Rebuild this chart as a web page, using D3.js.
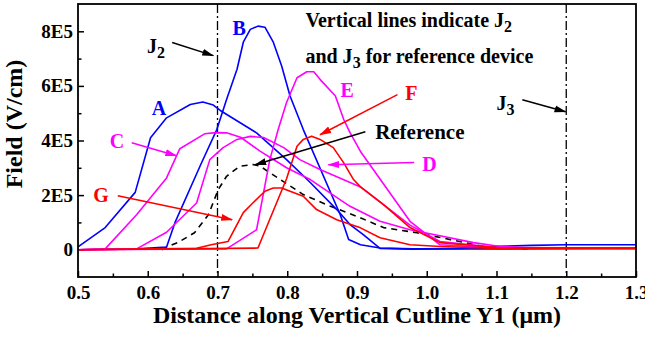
<!DOCTYPE html>
<html>
<head>
<meta charset="utf-8">
<script src="https://cdn.jsdelivr.net/npm/d3@7"></script>
<style>
body { margin: 0; background: #fff; }
text { font-family: "Liberation Serif", "Times New Roman", serif; font-weight: bold; }
</style>
</head>
<body>
<script>
// distance in um, field in units of 1E5 V/cm
var curveA = [[0.5,0.1],[0.539,0.81],[0.582,2.1],[0.604,4.1],[0.627,4.83],[0.661,5.32],[0.679,5.41],[0.694,5.3],[0.704,5.1],[0.756,4.28],[0.799,3.3],[0.833,2.46],[0.871,1.47],[0.89,0.92],[0.909,0.55],[0.933,0.05],[0.98,0.02],[1.05,0.05],[1.1,0.12],[1.15,0.16],[1.2,0.18],[1.3,0.18]];
var curveB = [[0.5,0],[0.585,0.03],[0.627,0.1],[0.639,0.99],[0.676,3.12],[0.699,4.4],[0.713,5.5],[0.728,6.61],[0.737,7.6],[0.747,8.07],[0.758,8.19],[0.768,8.15],[0.78,7.6],[0.792,6.73],[0.804,5.63],[0.823,4.4],[0.876,1.28],[0.888,0.37],[0.905,0.18],[0.933,0.06],[0.98,0.03],[1.1,0.03],[1.3,0.05]];
var curveC = [[0.5,0],[0.539,0.03],[0.584,1.28],[0.627,2.63],[0.646,3.7],[0.682,4.25],[0.697,4.29],[0.713,4.28],[0.733,4.12],[0.761,3.61],[0.799,3.0],[0.833,2.57],[0.89,1.59],[0.933,1.04],[0.976,0.73],[1.019,0.51],[1.067,0.26],[1.105,0.12],[1.15,0.06],[1.3,0.05]];
var curveD = [[0.5,0],[0.584,0.03],[0.627,0.64],[0.67,1.71],[0.689,3.3],[0.708,3.74],[0.728,4.04],[0.747,4.15],[0.766,4.11],[0.795,3.74],[0.818,3.3],[0.847,2.94],[0.905,2.3],[0.938,1.65],[0.976,0.9],[1.019,0.3],[1.1,0.08],[1.3,0.06]];
var curveE = [[0.5,0],[0.713,0.03],[0.756,0.73],[0.775,3.3],[0.787,4.4],[0.799,5.39],[0.814,6.3],[0.828,6.52],[0.838,6.52],[0.847,6.24],[0.869,5.63],[0.881,4.77],[0.89,4.29],[0.905,3.6],[0.976,1.04],[1.019,0.18],[1.1,0.06],[1.3,0.06]];
var curveF = [[0.5,0],[0.758,0.06],[0.799,2.6],[0.814,3.79],[0.823,4.04],[0.835,4.16],[0.847,4.04],[0.866,3.74],[0.881,3.18],[0.895,2.57],[0.905,2.3],[0.938,1.65],[0.976,0.81],[1.019,0.26],[1.105,0.07],[1.3,0.05]];
var curveG = [[0.5,0],[0.67,0.05],[0.691,0.18],[0.715,0.3],[0.737,1.36],[0.751,1.72],[0.768,2.14],[0.78,2.26],[0.792,2.26],[0.804,2.14],[0.823,1.96],[0.842,1.47],[0.871,1.1],[0.905,0.8],[0.933,0.44],[0.976,0.18],[1.02,0.12],[1.1,0.05],[1.3,0.05]];
var curveRef = [[0.62,0],[0.627,0.1],[0.643,0.26],[0.667,0.62],[0.687,1.28],[0.701,2.2],[0.713,2.69],[0.732,3.06],[0.751,3.12],[0.761,3.06],[0.79,2.57],[0.823,2.02],[0.862,1.59],[0.9,1.22],[0.938,0.81],[0.986,0.62],[1.034,0.37],[1.081,0.12],[1.15,0.03]];

var xTicks = [0.5,0.6,0.7,0.8,0.9,1.0,1.1,1.2,1.3];
var xTickLabels = ["0.5","0.6","0.7","0.8","0.9","1.0","1.1","1.2","1.3"];
var xMinorTicks = [0.55,0.65,0.75,0.85,0.95,1.05,1.15,1.25];
var yTicks = [0,2,4,6,8];
var yTickLabels = ["0","2E5","4E5","6E5","8E5"];
var yMinorTicks = [1,3,5,7];
var junctions = [0.7, 1.2];

var blue = "#0000ff", magenta = "#ff00ff", red = "#ff0000";

var margin = {top: 4, right: 9, bottom: 60, left: 78};
var width = 645 - margin.left - margin.right,
    height = 337 - margin.top - margin.bottom;

var x = d3.scaleLinear().domain([0.5, 1.3]).range([0, width]);
var y = d3.scaleLinear().domain([-1, 9]).range([height, 0]);

var base = d3.select("body").append("svg")
  .attr("width", 645).attr("height", 337);
var svg = base.append("g")
  .attr("transform", "translate(" + margin.left + "," + margin.top + ")");

// arrow heads, one per colour
var defs = base.append("defs");
[["black","#000"],["red",red],["magenta",magenta]].forEach(function(m) {
  defs.append("marker").attr("id", "arr-" + m[0])
    .attr("markerUnits", "userSpaceOnUse")
    .attr("markerWidth", 12).attr("markerHeight", 8)
    .attr("refX", 11).attr("refY", 4).attr("orient", "auto")
    .append("path").attr("d", "M0,0.5 L12,4 L0,7.5 Z").attr("fill", m[1]);
});

// axes, ticks inward
var xAxis = d3.axisBottom(x).tickValues(xTicks)
  .tickFormat(function(d, i) { return xTickLabels[i]; })
  .tickSizeInner(-6).tickSizeOuter(0).tickPadding(9);
var xMinor = d3.axisBottom(x).tickValues(xMinorTicks)
  .tickSizeInner(-3.5).tickSizeOuter(0);
var yAxis = d3.axisLeft(y).tickValues(yTicks)
  .tickFormat(function(d, i) { return yTickLabels[i]; })
  .tickSizeInner(-6).tickSizeOuter(0).tickPadding(5);
var yMinor = d3.axisLeft(y).tickValues(yMinorTicks)
  .tickSizeInner(-3.5).tickSizeOuter(0);

var gx = svg.append("g").attr("transform", "translate(0," + height + ")").call(xAxis);
var gxm = svg.append("g").attr("transform", "translate(0," + height + ")").call(xMinor);
var gy = svg.append("g").call(yAxis);
var gym = svg.append("g").call(yMinor);
gxm.selectAll("text").remove();
gym.selectAll("text").remove();
[gx, gxm, gy, gym].forEach(function(g) {
  g.select(".domain").remove();
  g.attr("font-family", null).attr("font-size", null);
  g.selectAll("line").attr("stroke", "#000").attr("stroke-width", 1.5);
  g.selectAll("text").attr("fill", "#000").style("font-size", "19px");
});

// junction lines
svg.selectAll(".junc").data(junctions).enter().append("line")
  .attr("x1", d => x(d)).attr("x2", d => x(d))
  .attr("y1", 0).attr("y2", height)
  .attr("stroke", "#000").attr("stroke-width", 1.3)
  .attr("stroke-dasharray", "9,3,2,3");

var line = d3.line().x(d => x(d[0])).y(d => y(d[1]));

var series = [
  {data: curveRef, color: "#000", dash: "6,5"},
  {data: curveA, color: blue},
  {data: curveB, color: blue},
  {data: curveC, color: magenta},
  {data: curveD, color: magenta},
  {data: curveE, color: magenta},
  {data: curveF, color: red},
  {data: curveG, color: red}
];

svg.selectAll(".curve").data(series).enter().append("path")
  .attr("class", "curve")
  .attr("d", d => line(d.data))
  .attr("fill", "none")
  .attr("stroke", d => d.color)
  .attr("stroke-width", 1.6)
  .attr("stroke-linejoin", "round")
  .attr("stroke-dasharray", d => d.dash || null);

// frame
svg.append("rect").attr("width", width).attr("height", height)
  .attr("fill", "none").attr("stroke", "#000").attr("stroke-width", 1.8);

// curve labels
var labels = [
  {t: "A", x: 0.616, y: 4.95, c: blue},
  {t: "B", x: 0.731, y: 7.88, c: blue},
  {t: "C", x: 0.556, y: 3.74, c: magenta},
  {t: "D", x: 1.004, y: 2.89, c: magenta},
  {t: "E", x: 0.886, y: 5.6, c: magenta},
  {t: "F", x: 0.978, y: 5.49, c: red},
  {t: "G", x: 0.533, y: 1.76, c: red}
];
svg.selectAll(".lab").data(labels).enter().append("text")
  .attr("x", d => x(d.x)).attr("y", d => y(d.y))
  .attr("text-anchor", "middle").attr("fill", d => d.c)
  .style("font-size", "20px").text(d => d.t);

var arrows = [
  {x1: 0.635, y1: 7.59, x2: 0.694, y2: 7.11, c: "black"},
  {x1: 1.137, y1: 5.49, x2: 1.199, y2: 5.05, c: "black"},
  {x1: 0.912, y1: 4.32, x2: 0.754, y2: 3.11, c: "black"},
  {x1: 0.577, y1: 3.92, x2: 0.641, y2: 3.44, c: "magenta"},
  {x1: 0.982, y1: 3.19, x2: 0.859, y2: 3.11, c: "magenta"},
  {x1: 0.958, y1: 5.68, x2: 0.847, y2: 4.21, c: "red"},
  {x1: 0.557, y1: 1.98, x2: 0.721, y2: 1.1, c: "red"}
];
var arrowColor = {black: "#000", red: red, magenta: magenta};
svg.selectAll(".arr").data(arrows).enter().append("line")
  .attr("x1", d => x(d.x1)).attr("y1", d => y(d.y1))
  .attr("x2", d => x(d.x2)).attr("y2", d => y(d.y2))
  .attr("stroke", d => arrowColor[d.c]).attr("stroke-width", 1.5)
  .attr("marker-end", d => "url(#arr-" + d.c + ")");

// texts with subscripts
function subText(px, py, size, parts) {
  var t = svg.append("text").attr("x", px).attr("y", py).attr("fill", "#000")
    .style("font-size", size + "px");
  var shift = 0;
  parts.forEach(function(p) {
    var sp = t.append("tspan").text(p.s);
    if (p.sub) {
      sp.attr("dy", 5).style("font-size", (size * 0.8) + "px");
      shift = 5;
    } else if (shift) {
      sp.attr("dy", -shift);
      shift = 0;
    }
  });
  return t;
}
subText(x(0.599), y(7.22), 20, [{s: "J"}, {s: "2", sub: true}]);
subText(x(1.1), y(5.13), 20, [{s: "J"}, {s: "3", sub: true}]);
subText(x(0.826), y(8.17), 20, [{s: "Vertical lines indicate J"}, {s: "2", sub: true}]);
subText(x(0.826), y(6.85), 20, [{s: "and J"}, {s: "3", sub: true}, {s: " for reference device"}]);
svg.append("text").attr("x", x(0.926)).attr("y", y(4.07))
  .style("font-size", "21px").text("Reference");

// axis titles
svg.append("text")
  .attr("x", width / 2).attr("y", height + 46)
  .attr("text-anchor", "middle").style("font-size", "24px")
  .text("Distance along Vertical Cutline Y1 (\u03bcm)");
svg.append("text")
  .attr("transform", "translate(" + (22 - margin.left) + "," + (124 - margin.top) + ") rotate(-90)")
  .attr("text-anchor", "middle").style("font-size", "24px")
  .text("Field (V/cm)");
</script>
</body>
</html>
